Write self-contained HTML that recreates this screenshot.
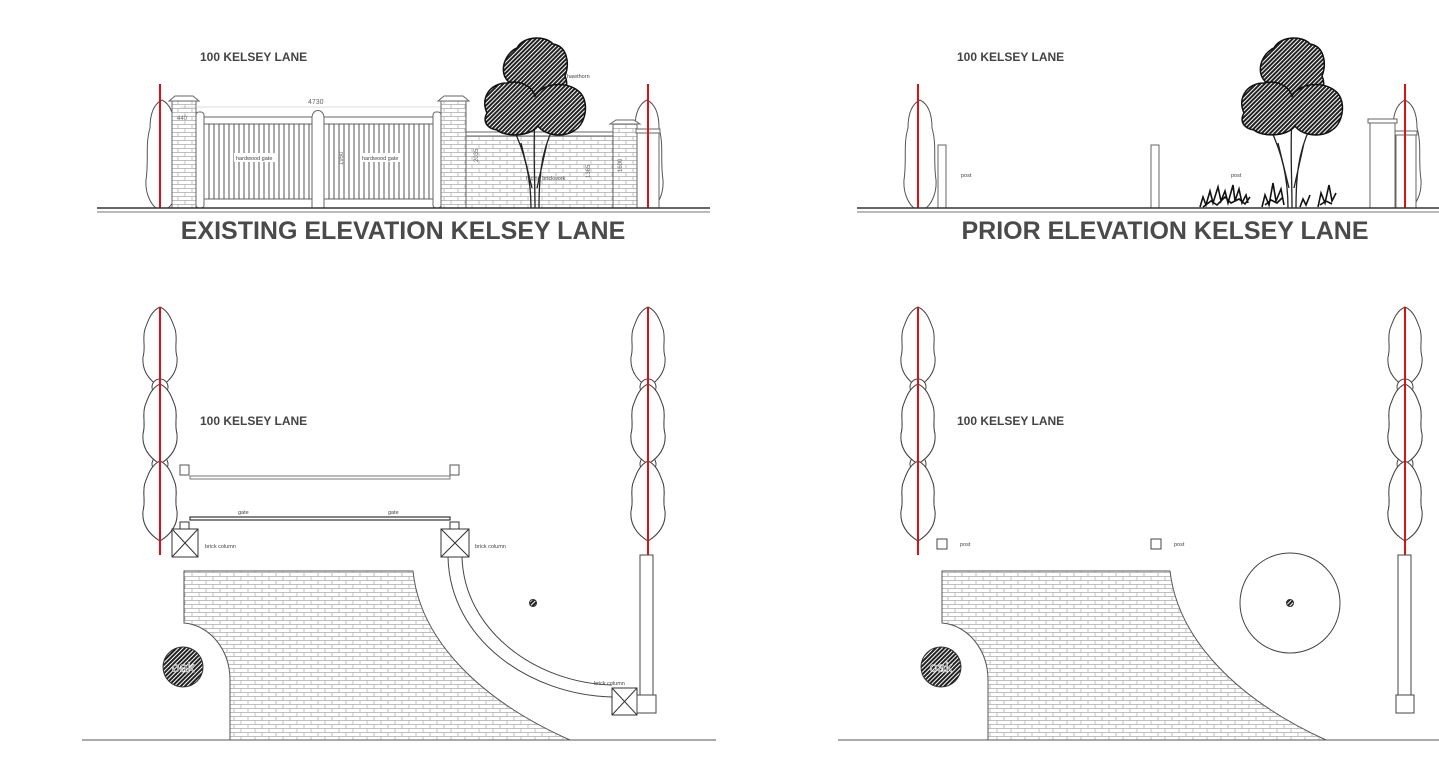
<!DOCTYPE html>
<html><head><meta charset="utf-8"><style>
html,body{margin:0;padding:0;background:#fff}
svg{display:block}
text{font-family:"Liberation Sans",sans-serif}
</style></head><body>
<svg width="1439" height="760" viewBox="0 0 1439 760" xmlns="http://www.w3.org/2000/svg">
<defs>
<pattern id="brick" width="14" height="8" patternUnits="userSpaceOnUse">
<rect width="14" height="8" fill="#fff"/>
<path d="M0,0.5H14M0,4.5H14M3,0.5V4.5M10,4.5V8.5" stroke="#aaa" stroke-width="0.7" fill="none"/>
</pattern>
<pattern id="hatch" width="3" height="3" patternUnits="userSpaceOnUse" patternTransform="rotate(45)">
<rect width="3" height="3" fill="#fff"/><rect width="2" height="3" fill="#222"/>
</pattern>
<g id="lobe" fill="#fff" stroke="#444" stroke-width="1">
<path d="M0,0 C-9,4 -12,14 -15,22 C-18,32 -14,40 -17,50 C-18,62 -13,72 0,80 C13,72 18,62 17,50 C14,40 18,32 15,22 C12,14 9,4 0,0Z"/>
</g>
<g id="cyp">
<use href="#lobe" y="0"/><use href="#lobe" y="77"/><use href="#lobe" y="154"/>
<circle cx="0" cy="80" r="8" fill="#fff" stroke="#444"/><circle cx="0" cy="157" r="8" fill="#fff" stroke="#444"/>
<use href="#lobe" y="77"/><use href="#lobe" y="154"/>
</g>
<g id="cypE" fill="#fff" stroke="#555" stroke-width="1">
<path d="M0,0 C-8,4 -12,14 -12,28 C-17,45 -13,60 -16,80 C-17,95 -10,105 -6,108 L6,108 C10,105 17,95 16,80 C13,60 17,45 12,28 C12,14 8,4 0,0Z"/>
</g>
<g id="tree">
<g stroke="#222" stroke-width="1.3" fill="none">
<path d="M-4,170 C-4,140 -10,115 -22,90 M4,170 C4,140 6,115 18,90 M0,170 C0,140 -2,110 0,80 M-3,150 L-14,105 M2,150 L12,105 M-10,58 L-8,25 M6,58 L8,25 M-2,58 L0,20"/>
</g>
<g fill="url(#hatch)" stroke="#111" stroke-width="1.5">
<path d="M-25,45 C-38,35 -30,15 -18,10 C-12,-2 10,-3 18,6 C32,8 35,25 30,38 C36,50 25,62 15,58 L-15,58 C-28,62 -35,55 -25,45Z"/>
<path d="M-48,75 C-55,60 -45,45 -28,45 C-15,42 -3,48 0,58 C8,45 30,43 42,52 C55,60 52,85 40,92 C30,100 10,98 3,88 C-5,99 -30,99 -38,92 C-50,90 -52,82 -48,75Z"/>
</g>
</g>
</defs>

<!-- ============ TOP LEFT ============ -->
<text x="200" y="61" font-size="12" font-weight="bold" fill="#444">100 KELSEY LANE</text>
<use href="#cypE" x="162" y="100"/>
<use href="#cypE" x="647" y="100"/>
<rect x="172" y="101" width="24" height="107" fill="url(#brick)" stroke="#666"/>
<path d="M169,101 L175,96 H193 L199,101Z" fill="#fff" stroke="#666"/>
<rect x="196" y="112" width="8" height="96" fill="#fff" stroke="#666" rx="3"/>
<rect x="433" y="112" width="8" height="96" fill="#fff" stroke="#666" rx="3"/>
<rect x="204" y="117" width="229" height="7" fill="#fff" stroke="#666"/>
<rect x="204" y="124" width="229" height="75" fill="#fff" stroke="#666"/>
<g stroke="#444" stroke-width="0.9">
<path d="M209,124V199M214,124V199M219,124V199M224,124V199M229,124V199M234,124V199M239,124V199M244,124V199M249,124V199M254,124V199M259,124V199M264,124V199M269,124V199M274,124V199M279,124V199M284,124V199M289,124V199M294,124V199M299,124V199M304,124V199M309,124V199"/>
<path d="M329,124V199M334,124V199M339,124V199M344,124V199M349,124V199M354,124V199M359,124V199M364,124V199M369,124V199M374,124V199M379,124V199M384,124V199M389,124V199M394,124V199M399,124V199M404,124V199M409,124V199M414,124V199M419,124V199M424,124V199M429,124V199"/>
</g>
<path d="M312,208 V118 C312,108 324,108 324,118 V208Z" fill="#fff" stroke="#666"/>
<rect x="234" y="153" width="42" height="9" fill="#fff"/>
<text x="236" y="160" font-size="5.5" fill="#444">hardwood gate</text>
<rect x="360" y="153" width="42" height="9" fill="#fff"/>
<text x="362" y="160" font-size="5.5" fill="#444">hardwood gate</text>
<text x="308" y="104" font-size="7" fill="#666">4730</text>
<line x1="180" y1="107" x2="455" y2="107" stroke="#bbb" stroke-width="0.6"/>
<text x="177" y="120" font-size="6" fill="#666">440</text>
<text x="447" y="120" font-size="6" fill="#666">440</text>
<text transform="translate(343,165) rotate(-90)" font-size="6" fill="#666">1950</text>
<rect x="453" y="135" width="160" height="73" fill="url(#brick)" stroke="#666"/>
<rect x="450" y="132" width="165" height="4" fill="#fff" stroke="#666"/>
<rect x="441" y="101" width="25" height="107" fill="url(#brick)" stroke="#666"/>
<path d="M438,101 L444,96 H463 L469,101Z" fill="#fff" stroke="#666"/>
<rect x="613" y="124" width="24" height="84" fill="url(#brick)" stroke="#666"/>
<path d="M610,124 L616,120 H634 L640,124Z" fill="#fff" stroke="#666"/>
<rect x="637" y="131" width="22" height="77" fill="#fff" stroke="#666"/>
<rect x="636" y="129" width="24" height="4" fill="#fff" stroke="#666"/>
<text transform="translate(478,162) rotate(-90)" font-size="6" fill="#666">2035</text>
<text transform="translate(590,178) rotate(-90)" font-size="6" fill="#666">1365</text>
<text transform="translate(622,172) rotate(-90)" font-size="6" fill="#666">1600</text>
<use href="#tree" x="535" y="38"/>
<text x="526" y="180" font-size="5.5" fill="#444">facing brickwork</text>
<text x="567" y="78" font-size="5.5" fill="#444">hawthorn</text>
<line x1="160" y1="84" x2="160" y2="208" stroke="#d11" stroke-width="2"/>
<line x1="648" y1="84" x2="648" y2="208" stroke="#d11" stroke-width="2"/>
<line x1="97" y1="208" x2="710" y2="208" stroke="#333" stroke-width="1.5"/>
<line x1="97" y1="212" x2="710" y2="212" stroke="#777" stroke-width="1"/>
<text x="403" y="239" font-size="25" font-weight="bold" fill="#4a4a4a" text-anchor="middle">EXISTING ELEVATION KELSEY LANE</text>

<!-- ============ TOP RIGHT ============ -->
<text x="957" y="61" font-size="12" font-weight="bold" fill="#444">100 KELSEY LANE</text>
<use href="#cypE" x="920" y="100"/>
<use href="#cypE" x="1405" y="100"/>
<rect x="938" y="145" width="8" height="63" fill="#fff" stroke="#666"/>
<rect x="1151" y="145" width="8" height="63" fill="#fff" stroke="#666"/>
<text x="961" y="177" font-size="5.5" fill="#444">post</text>
<use href="#tree" x="1292" y="38"/>
<g stroke="#111" stroke-width="1.6" fill="none">
<path d="M1200,207 l3,-10 l3,8 l4,-14 l3,12 l5,-16 l3,14 l4,-10 l3,12 l5,-18 l2,16 l4,-12 l3,14 l4,-8 l2,8 M1203,207 l8,-6 l6,4 l8,-8 l6,6 l8,-4 l6,5 l5,-7 M1262,207 l3,-12 l4,10 l4,-22 l3,18 l5,-12 l3,16 M1265,205 l6,-5 l6,3 l6,-6 M1300,207 l3,-8 l3,6 l4,-10 M1318,207 l3,-14 l4,10 l4,-18 l3,16 l4,-8 M1320,205 l6,-4 l6,3"/>
</g>
<text x="1231" y="177" font-size="5.5" fill="#444">post</text>
<rect x="1370" y="122" width="25" height="86" fill="#fff" stroke="#666"/>
<rect x="1368" y="119" width="29" height="4" fill="#fff" stroke="#666"/>
<rect x="1396" y="134" width="20" height="74" fill="#fff" stroke="#666"/>
<rect x="1395" y="131" width="22" height="4" fill="#fff" stroke="#666"/>
<line x1="918" y1="84" x2="918" y2="208" stroke="#d11" stroke-width="2"/>
<line x1="1405" y1="84" x2="1405" y2="208" stroke="#d11" stroke-width="2"/>
<line x1="857" y1="208" x2="1439" y2="208" stroke="#333" stroke-width="1.5"/>
<line x1="857" y1="212" x2="1439" y2="212" stroke="#777" stroke-width="1"/>
<text x="1165" y="239" font-size="25" font-weight="bold" fill="#4a4a4a" text-anchor="middle">PRIOR ELEVATION KELSEY LANE</text>

<!-- ============ BOTTOM LEFT ============ -->
<text x="200" y="425" font-size="12" font-weight="bold" fill="#444">100 KELSEY LANE</text>
<use href="#cyp" x="160" y="307"/>
<use href="#cyp" x="648" y="307"/>
<line x1="160" y1="307" x2="160" y2="555" stroke="#d11" stroke-width="2"/>
<line x1="648" y1="307" x2="648" y2="555" stroke="#d11" stroke-width="2"/>
<rect x="180" y="465" width="9" height="10" fill="#fff" stroke="#555"/>
<rect x="450" y="465" width="9" height="10" fill="#fff" stroke="#555"/>
<rect x="190" y="476" width="260" height="3" fill="#fff" stroke="#555" stroke-width="0.8"/>
<rect x="190" y="517" width="260" height="3" fill="#fff" stroke="#333" stroke-width="1.2"/>
<text x="238" y="514" font-size="5.5" fill="#444">gate</text>
<text x="388" y="514" font-size="5.5" fill="#444">gate</text>
<rect x="180" y="522" width="9" height="9" fill="#fff" stroke="#333"/>
<rect x="450" y="522" width="9" height="9" fill="#fff" stroke="#333"/>
<g fill="#fff" stroke="#333">
<rect x="172" y="529" width="26" height="28"/><path d="M172,529 L198,557 M198,529 L172,557"/>
<rect x="441" y="529" width="28" height="28"/><path d="M441,529 L469,557 M469,529 L441,557"/>
</g>
<text x="205" y="548" font-size="5.5" fill="#444">brick column</text>
<text x="475" y="548" font-size="5.5" fill="#444">brick column</text>
<path d="M184,571 H413 C420,640 480,700 570,740 H230 V680 C230,650 210,625 184,623Z" fill="url(#brick)" stroke="#555"/>
<path d="M448,557 C450,640 530,695 612,697" fill="none" stroke="#444"/>
<path d="M462,557 C464,630 535,683 612,685" fill="none" stroke="#444"/>
<g fill="#fff" stroke="#333">
<rect x="612" y="688" width="25" height="27"/><path d="M612,688 L637,715 M637,688 L612,715"/>
</g>
<text x="594" y="685" font-size="5.5" fill="#444">brick column</text>
<rect x="640" y="555" width="13" height="140" fill="#fff" stroke="#444"/>
<rect x="637" y="695" width="19" height="18" fill="#fff" stroke="#444"/>
<circle cx="533" cy="603" r="3.5" fill="url(#hatch)" stroke="#333"/>
<circle cx="183" cy="667" r="20" fill="url(#hatch)" stroke="#333"/>
<text x="183" y="672" font-size="14" fill="#555" stroke="#fff" stroke-width="0.6" text-anchor="middle">oak</text>
<line x1="82" y1="740" x2="716" y2="740" stroke="#555"/>

<!-- ============ BOTTOM RIGHT ============ -->
<text x="957" y="425" font-size="12" font-weight="bold" fill="#444">100 KELSEY LANE</text>
<use href="#cyp" x="918" y="307"/>
<use href="#cyp" x="1405" y="307"/>
<line x1="918" y1="307" x2="918" y2="555" stroke="#d11" stroke-width="2"/>
<line x1="1405" y1="307" x2="1405" y2="555" stroke="#d11" stroke-width="2"/>
<rect x="937" y="539" width="10" height="10" fill="#fff" stroke="#444"/>
<rect x="1151" y="539" width="10" height="10" fill="#fff" stroke="#444"/>
<text x="960" y="546" font-size="5.5" fill="#444">post</text>
<text x="1174" y="546" font-size="5.5" fill="#444">post</text>
<path d="M942,571 H1170 C1178,640 1238,700 1326,740 H988 V680 C988,650 968,625 942,623Z" fill="url(#brick)" stroke="#555"/>
<circle cx="1290" cy="603" r="50" fill="#fff" stroke="#444"/>
<circle cx="1290" cy="603" r="3.5" fill="url(#hatch)" stroke="#333"/>
<rect x="1398" y="555" width="13" height="140" fill="#fff" stroke="#444"/>
<rect x="1396" y="695" width="18" height="18" fill="#fff" stroke="#444"/>
<circle cx="941" cy="667" r="20" fill="url(#hatch)" stroke="#333"/>
<text x="941" y="672" font-size="14" fill="#555" stroke="#fff" stroke-width="0.6" text-anchor="middle">oak</text>
<line x1="838" y1="740" x2="1439" y2="740" stroke="#555"/>
</svg>
</body></html>
